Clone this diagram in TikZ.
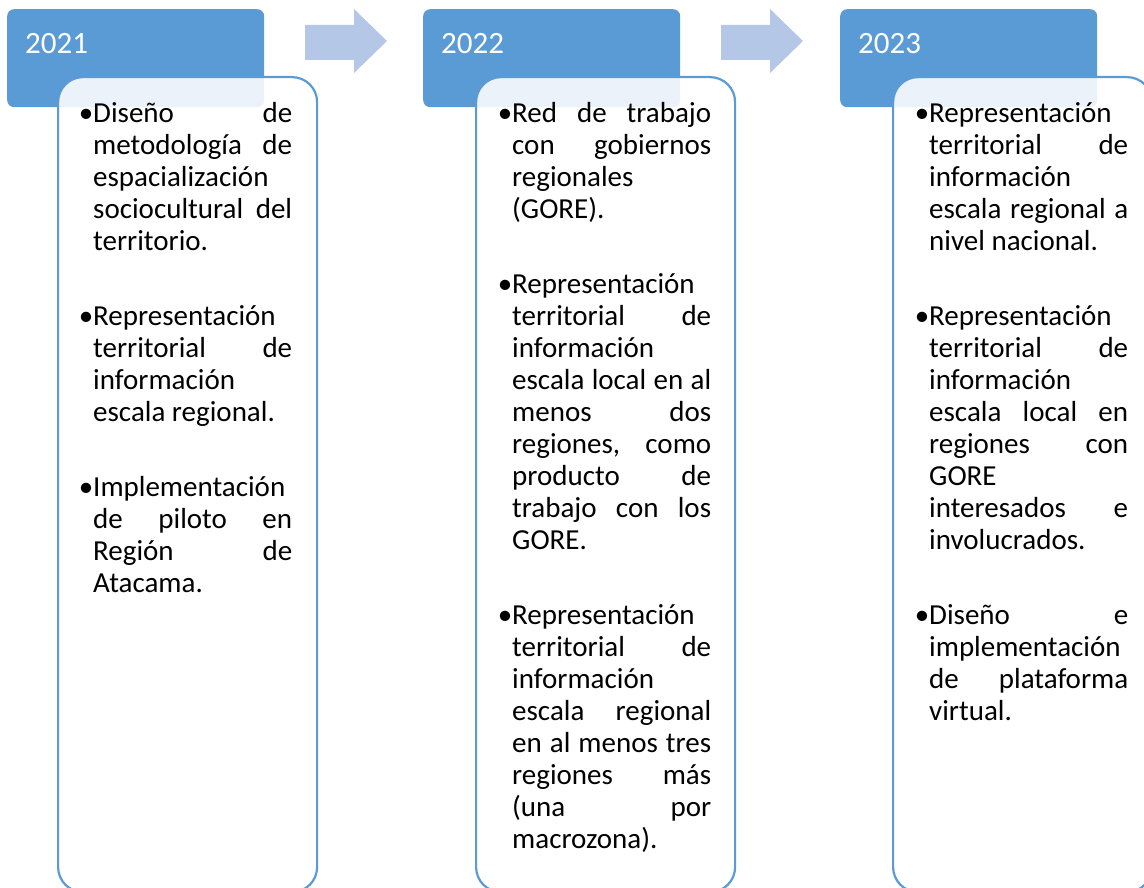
\documentclass[tikz,border=0pt]{standalone}
\usepackage{fontspec}
\setmainfont{Carlito}
\definecolor{hdrblue}{HTML}{5B9BD5}
\definecolor{arrblue}{HTML}{B4C7E7}
\newlength\tw \setlength\tw{199pt}
\newcommand\Jl[1]{\hbox to \tw{\spaceskip=0.2em plus 1fil\relax #1}}
\newcommand\Ll[1]{\hbox to \tw{#1\hfil}}
\newcommand\Bj[1]{\hbox to \tw{\llap{•}\spaceskip=0.2em plus 1fil\relax #1}}
\newcommand\Bs[1]{\hbox to \tw{\llap{•}#1\hfil}}
\newcommand\Pgap{\vskip 43pt}
\tikzset{
  hdrbox/.style={fill=hdrblue, rounded corners=7pt, inner sep=0, minimum width=257pt, minimum height=98pt, anchor=north west},
  contbox/.style={draw=hdrblue, line width=2.2pt, fill=white, fill opacity=0.88, rounded corners=25pt, inner sep=0, minimum width=259pt, minimum height=815pt, anchor=north west},
  yeartext/.style={text=white, font=\fontsize{31}{37}\selectfont, anchor=base west, inner sep=0},
  bodytext/.style={text=black, font=\fontsize{29}{32}\selectfont, anchor=base west, inner sep=0},
  arrowshape/.style={fill=arrblue}
}
\begin{document}
\begin{tikzpicture}[x=1pt,y=-1pt]
\useasboundingbox (0,0) rectangle (1144,888);
\clip (0,0) rectangle (1144,888);
% headers
\node[hdrbox] (h1) at (7,9) {};
\node[hdrbox] (h2) at (423,9) {};
\node[hdrbox] (h3) at (840,9) {};
\node[yeartext] (y1) at (25,54) {2021};
\node[yeartext] (y2) at (441,54) {2022};
\node[yeartext] (y3) at (858,54) {2023};
% arrows
\fill[arrowshape] (305,25) -- (354,25) -- (354,9) -- (387,41) -- (354,73) -- (354,60) -- (305,60) -- cycle;
\fill[arrowshape] (721,25) -- (770,25) -- (770,9) -- (803,41) -- (770,73) -- (770,60) -- (721,60) -- cycle;
% content boxes
\node[contbox] (c1) at (57,76) {};
\node[contbox] (c2) at (475,76) {};
\node[contbox] (c3) at (892,76) {};
% texts
\node[bodytext] (t1) at (93,123) {\vtop{\baselineskip=32pt
\Bj{Diseño de}
\Jl{metodología de}
\Ll{espacialización}
\Jl{sociocultural del}
\Ll{territorio.}
\Pgap
\Bs{Representación}
\Jl{territorial de}
\Ll{información}
\Ll{escala regional.}
\Pgap
\Bs{Implementación}
\Jl{de piloto en}
\Jl{Región de}
\Ll{Atacama.}}};
\node[bodytext] (t2) at (512,123) {\vtop{\baselineskip=32pt
\Bj{Red de trabajo}
\Jl{con gobiernos}
\Ll{regionales}
\Ll{(GORE).}
\Pgap
\Bs{Representación}
\Jl{territorial de}
\Ll{información}
\Jl{escala local en al}
\Jl{menos dos}
\Jl{regiones, como}
\Jl{producto de}
\Jl{trabajo con los}
\Ll{GORE.}
\Pgap
\Bs{Representación}
\Jl{territorial de}
\Ll{información}
\Jl{escala regional}
\Jl{en al menos tres}
\Jl{regiones más}
\Jl{(una por}
\Ll{macrozona).}}};
\node[bodytext] (t3) at (929,123) {\vtop{\baselineskip=32pt
\Bs{Representación}
\Jl{territorial de}
\Ll{información}
\Jl{escala regional a}
\Ll{nivel nacional.}
\Pgap
\Bs{Representación}
\Jl{territorial de}
\Ll{información}
\Jl{escala local en}
\Jl{regiones con}
\Ll{GORE}
\Jl{interesados e}
\Ll{involucrados.}
\Pgap
\Bj{Diseño e}
\Ll{implementación}
\Jl{de plataforma}
\Ll{virtual.}}};
\end{tikzpicture}
\end{document}
